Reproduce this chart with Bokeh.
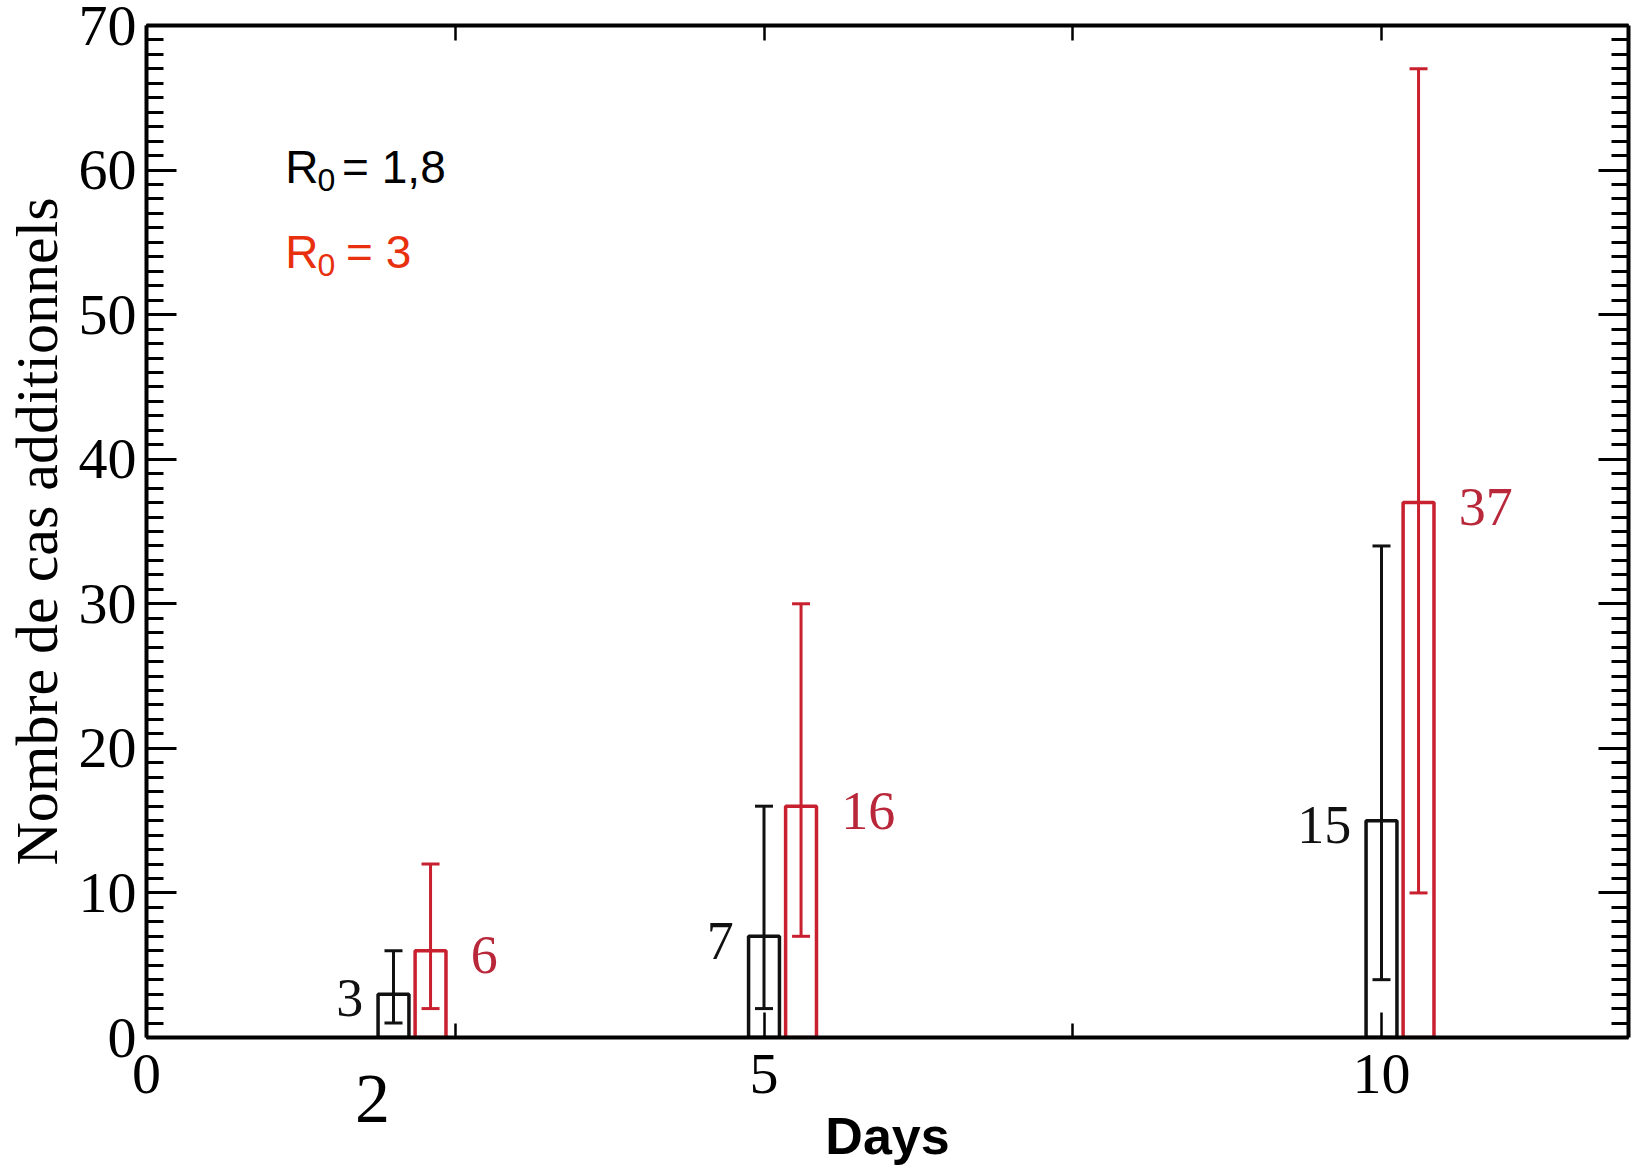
from bokeh.plotting import figure
from bokeh.models import (ColumnDataSource, Whisker, TeeHead, Label, LinearAxis,
                          SingleIntervalTicker, FixedTicker, Range1d, CustomJSTickFormatter)
from bokeh.embed import file_html
from bokeh.resources import INLINE
from bokeh.core.properties import value

# ---- data ----
days = [2, 5, 10]
mean_r18 = [3, 7, 15]
low_r18 = [1, 2, 4]
high_r18 = [6, 16, 34]
mean_r3 = [6, 16, 37]
low_r3 = [2, 7, 10]
high_r3 = [12, 30, 67]
y_major = [0, 10, 20, 30, 40, 50, 60, 70]
y_minor = [float(v) for v in range(0, 71)]
x_major = [0, 5, 10]
x_minor = [2.5, 7.5]
extra_day_label = "2"
extra_day_pos = [1.83]
legend_r18 = "= 1,8"
legend_r3 = "= 3"

BLACK = "#111111"
RED = "#c8202e"
RED_TXT = "#b9283a"
RED_LEG = "#e8300f"
SERIF = "Liberation Serif"
SANS = "Liberation Sans"

bar_w = 0.25
offset = 0.3

p = figure(width=1635, height=1167, x_range=Range1d(0, 12), y_range=Range1d(0, 70),
           output_backend="svg", toolbar_location=None,
           x_axis_type=None, y_axis_type=None,
           min_border_left=143, min_border_right=7, min_border_top=25, min_border_bottom=130)
p.outline_line_color = None
p.background_fill_color = "white"
p.border_fill_color = "white"

AXW = 4
blank = CustomJSTickFormatter(code="return ''")

# left axis
yaxis = LinearAxis(ticker=FixedTicker(ticks=y_major, minor_ticks=y_minor),
                   axis_label="Nombre de cas additionnels",
                   axis_label_text_font=SERIF, axis_label_text_font_size="60px",
                   axis_label_text_font_style="normal", axis_label_text_color="black",
                   major_label_text_font=SERIF, major_label_text_font_size="58px",
                   major_label_text_color="black",
                   major_tick_in=30, major_tick_out=0, minor_tick_in=17, minor_tick_out=0,
                   axis_line_width=AXW, major_tick_line_width=3, minor_tick_line_width=3,
                   minor_tick_line_color="black",
                   major_label_standoff=10, axis_label_standoff=6)
p.add_layout(yaxis, "left")

# right axis (ticks only)
raxis = LinearAxis(ticker=FixedTicker(ticks=y_major, minor_ticks=y_minor),
                   formatter=blank,
                   major_tick_in=30, major_tick_out=0, minor_tick_in=17, minor_tick_out=0,
                   axis_line_width=AXW, major_tick_line_width=3, minor_tick_line_width=3,
                   minor_tick_line_color="black",
                   major_label_standoff=0)
p.add_layout(raxis, "right")

# bottom axis: line, ticks and 0 / 5 / 10
xaxis = LinearAxis(ticker=FixedTicker(ticks=x_major, minor_ticks=x_minor),
                   major_label_text_font=SERIF, major_label_text_font_size="58px",
                   major_label_text_color="black",
                   major_tick_in=25, major_tick_out=0, minor_tick_in=14, minor_tick_out=0,
                   axis_line_width=AXW, major_tick_line_width=2.5, minor_tick_line_width=2.5,
                   major_label_standoff=17)
p.add_layout(xaxis, "below")

# second row below: the large "2" and the "Days" title
xaxis2 = LinearAxis(ticker=FixedTicker(ticks=extra_day_pos, minor_ticks=[]),
                    formatter=CustomJSTickFormatter(code="return '%s'" % extra_day_label),
                    axis_line_color=None, major_tick_line_color=None, minor_tick_line_color=None,
                    major_tick_in=0, major_tick_out=0, minor_tick_in=0, minor_tick_out=0,
                    major_label_text_font=SERIF, major_label_text_font_size="70px",
                    major_label_text_color="black",
                    major_label_standoff=-20,
                    axis_label="Days",
                    axis_label_text_font=SANS, axis_label_text_font_size="52px",
                    axis_label_text_font_style="bold", axis_label_text_color="black",
                    axis_label_standoff=-18)
p.add_layout(xaxis2, "below")

# top axis (ticks only)
taxis = LinearAxis(ticker=SingleIntervalTicker(interval=2.5, num_minor_ticks=0),
                   formatter=blank,
                   major_tick_in=15, major_tick_out=0,
                   axis_line_width=AXW, major_tick_line_width=2.5,
                   major_label_standoff=0)
p.add_layout(taxis, "above")

# ---- bars ----
src18 = ColumnDataSource(dict(x=days, top=mean_r18, low=low_r18, high=high_r18,
                              lab=[str(v) for v in mean_r18],
                              lx=[d - bar_w / 2 - 0.12 for d in days],
                              ly=[v - 0.3 for v in mean_r18]))
src3 = ColumnDataSource(dict(x=[d + offset for d in days], top=mean_r3, low=low_r3, high=high_r3,
                             lab=[str(v) for v in mean_r3],
                             lx=[d + offset + bar_w / 2 + 0.2 for d in days],
                             ly=[v - 0.3 for v in mean_r3]))

p.vbar(x="x", top="top", bottom=0, width=bar_w, source=src18,
       fill_color=None, line_color=BLACK, line_width=3.5)
p.vbar(x="x", top="top", bottom=0, width=bar_w, source=src3,
       fill_color=None, line_color=RED, line_width=3.5)

for src, col in ((src18, BLACK), (src3, RED)):
    w = Whisker(source=src, base="x", upper="high", lower="low",
                line_color=col, line_width=3,
                upper_head=TeeHead(size=18, line_color=col, line_width=3),
                lower_head=TeeHead(size=18, line_color=col, line_width=3))
    p.add_layout(w)

p.text(x="lx", y="ly", text="lab", source=src18, text_align="right", text_baseline="middle",
       text_font=value(SERIF), text_font_size="54px", text_color=BLACK)
p.text(x="lx", y="ly", text="lab", source=src3, text_align="left", text_baseline="middle",
       text_font=value(SERIF), text_font_size="54px", text_color=RED_TXT)

# ---- legend texts (R0) ----
for (yb, col, txt, xs) in ((60.2, "black", legend_r18, 1.584), (54.3, RED_LEG, legend_r3, 1.616)):
    p.add_layout(Label(x=1.123, y=yb, text="R", text_font=SANS, text_font_size="46px",
                       text_color=col, text_baseline="alphabetic"))
    p.add_layout(Label(x=1.385, y=yb - 0.9, text="0", text_font=SANS, text_font_size="32px",
                       text_color=col, text_baseline="alphabetic"))
    p.add_layout(Label(x=xs, y=yb, text=txt, text_font=SANS, text_font_size="46px",
                       text_color=col, text_baseline="alphabetic"))

open("out.html", "w").write(file_html(p, INLINE))
